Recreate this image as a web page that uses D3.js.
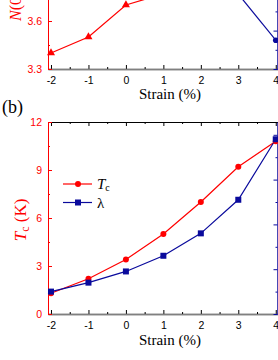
<!DOCTYPE html>
<html>
<head>
<meta charset="utf-8">
<script src="https://cdn.jsdelivr.net/npm/d3@7"></script>
<style>
  body { margin: 0; background: #fff; }
  svg { display: block; overflow: hidden; }
  .tick text { font-family: "Liberation Sans", Arial, sans-serif; font-size: 10.5px; }
  .title { font-family: "Liberation Serif", "Times New Roman", serif; }
</style>
</head>
<body>
<svg id="chart" width="278" height="360"></svg>
<script>
const strain = [-2, -1, 0, 1, 2, 3, 4]
const xTicks = [-2, -1, 0, 1, 2, 3, 4]

// panel (a): only the lower part is visible in the crop
const nStrain = [-2, -1, 0, 1]
const nValues = [3.4, 3.5, 3.7, 3.77]
const nTicks = [3.3, 3.6, 3.9, 4.2, 4.5]
const wStrain = [3, 4]
const wValues = [278, 230]
const wTicks = [200, 240, 280, 320, 360, 400]

// panel (b)
const tcValues = [1.3, 2.2, 3.4, 5.0, 7.0, 9.2, 10.8]
const tcTicks = [0, 3, 6, 9, 12]
const lambdaValues = [0.5, 0.54, 0.59, 0.66, 0.76, 0.91, 1.18]
const lambdaTicks = [0.4, 0.6, 0.8, 1.0, 1.2]

const RED = '#ff0000'
const BLUE = '#0a0a9c'

const svg = d3.select('#chart')
const left = 48
const right = 278

const x = d3.scaleLinear().domain([-2.08, 4.06]).range([left, right])
const halves = d3.range(-1.5, 4, 1)

function halfSteps(ticks) {
  const out = []
  for (let i = 0; i < ticks.length - 1; i++) out.push((ticks[i] + ticks[i + 1]) / 2)
  return out
}

function drawFrame({ top, bottom, yLeft, yLeftTicks, yLeftFmt, yRight, yRightTicks }) {
  // bottom axis
  const xb = svg.append('g').attr('transform', `translate(0,${bottom})`)
  xb.call(d3.axisBottom(x).tickValues(xTicks).tickSizeInner(-4).tickSizeOuter(0).tickPadding(8).tickFormat((d) => String(d)))
  xb.append('g').call(d3.axisBottom(x).tickValues(halves).tickSizeInner(-2).tickSizeOuter(0).tickFormat(''))
  xb.selectAll('.domain').attr('stroke', '#808080').attr('stroke-width', 1.6)
  xb.selectAll('.tick line').attr('stroke', '#000')
  xb.selectAll('.tick text').attr('fill', '#000')

  // top axis
  const xt = svg.append('g').attr('transform', `translate(0,${top})`)
  xt.call(d3.axisTop(x).tickValues(xTicks).tickSizeInner(-4).tickSizeOuter(0).tickFormat(''))
  xt.append('g').call(d3.axisTop(x).tickValues(halves).tickSizeInner(-2).tickSizeOuter(0).tickFormat(''))

  // left axis
  const yl = svg.append('g').attr('transform', `translate(${left},0)`)
  yl.call(d3.axisLeft(yLeft).tickValues(yLeftTicks).tickSizeInner(-4).tickSizeOuter(0).tickPadding(6).tickFormat(yLeftFmt))
  yl.append('g').call(d3.axisLeft(yLeft).tickValues(halfSteps(yLeftTicks)).tickSizeInner(-2).tickSizeOuter(0).tickFormat(''))
  yl.selectAll('.domain, .tick line').attr('stroke', RED)
  yl.selectAll('.tick text').attr('fill', RED)

  // right axis
  const yr = svg.append('g').attr('transform', `translate(${right - 0.5},0)`)
  yr.call(d3.axisRight(yRight).tickValues(yRightTicks).tickSizeInner(-4).tickSizeOuter(0).tickPadding(6))
  yr.append('g').call(d3.axisRight(yRight).tickValues(halfSteps(yRightTicks)).tickSizeInner(-2).tickSizeOuter(0).tickFormat(''))
  yr.selectAll('.domain, .tick line').attr('stroke', BLUE)
  yr.selectAll('.tick text').attr('fill', BLUE)
}

function drawLine(xs, ys, y, color) {
  const pts = xs.map((d, i) => [x(d), y(ys[i])])
  svg.append('path')
    .attr('d', d3.line()(pts))
    .attr('fill', 'none')
    .attr('stroke', color)
    .attr('stroke-width', 1.2)
  return pts
}

function addTitle(text, yPos) {
  svg.append('text').attr('class', 'title')
    .attr('x', 170).attr('y', yPos)
    .attr('text-anchor', 'middle')
    .attr('font-size', 15)
    .text(text)
}

// ----- panel (a)
const aTop = -123
const aBottom = 69
const yN = d3.scaleLinear().domain([3.3, 4.5]).range([aBottom, aTop])
const yW = d3.scaleLinear().domain([200, 400]).range([aBottom, aTop])

drawFrame({ top: aTop, bottom: aBottom, yLeft: yN, yLeftTicks: nTicks, yLeftFmt: d3.format('.1f'), yRight: yW, yRightTicks: wTicks })

const nPts = drawLine(nStrain, nValues, yN, RED)
svg.append('g').selectAll('path').data(nPts).enter().append('path')
  .attr('transform', (d) => `translate(${d[0]},${d[1]})`)
  .attr('d', d3.symbol().type(d3.symbolTriangle).size(28))
  .attr('fill', RED)

const wPts = drawLine(wStrain, wValues, yW, BLUE)
svg.append('g').selectAll('circle').data(wPts).enter().append('circle')
  .attr('cx', (d) => d[0]).attr('cy', (d) => d[1]).attr('r', 2.8)
  .attr('fill', BLUE)

svg.append('text').attr('class', 'title')
  .attr('transform', 'translate(21,21) rotate(-90)')
  .attr('font-size', 16)
  .attr('fill', RED)
  .call((t) => {
    t.append('tspan').attr('font-style', 'italic').text('N')
    t.append('tspan').text('(0) (states/eV)')
  })

addTitle('Strain (%)', 99)

// ----- panel (b)
const bTop = 122
const bBottom = 314
const yTc = d3.scaleLinear().domain([0, 12]).range([bBottom, bTop])
const yLam = d3.scaleLinear().domain([0.4, 0.4 + 0.2 * 192 / 44.8]).range([bBottom, bTop])

drawFrame({ top: bTop, bottom: bBottom, yLeft: yTc, yLeftTicks: tcTicks, yLeftFmt: (d) => String(d), yRight: yLam, yRightTicks: lambdaTicks })

const tcPts = drawLine(strain, tcValues, yTc, RED)
const lamPts = drawLine(strain, lambdaValues, yLam, BLUE)

svg.append('g').selectAll('circle').data(tcPts).enter().append('circle')
  .attr('cx', (d) => d[0]).attr('cy', (d) => d[1]).attr('r', 3)
  .attr('fill', RED)

svg.append('g').selectAll('rect').data(lamPts).enter().append('rect')
  .attr('x', (d) => d[0] - 3).attr('y', (d) => d[1] - 3)
  .attr('width', 6).attr('height', 6)
  .attr('fill', BLUE)

svg.append('text').attr('class', 'title')
  .attr('x', 2).attr('y', 113)
  .attr('font-size', 18)
  .text('(b)')

svg.append('text').attr('class', 'title')
  .attr('transform', `translate(26,${(bTop + bBottom) / 2 + 2}) rotate(-90)`)
  .attr('text-anchor', 'middle')
  .attr('font-size', 17)
  .attr('fill', RED)
  .call((t) => {
    t.append('tspan').attr('font-style', 'italic').text('T')
    t.append('tspan').attr('font-size', 12).attr('dy', 3).text('c')
    t.append('tspan').attr('dy', -3).text(' (K)')
  })

addTitle('Strain (%)', 345)

// legend
const legend = svg.append('g').attr('transform', 'translate(63,184)')
const legendItems = [
  { color: RED, mark: 'circle', label: 'Tc' },
  { color: BLUE, mark: 'square', label: 'λ' },
]
legendItems.forEach((item, i) => {
  const g = legend.append('g').attr('transform', `translate(0,${i * 18.5})`)
  g.append('line').attr('x1', 0).attr('x2', 29).attr('stroke', item.color).attr('stroke-width', 1.2)
  if (item.mark === 'circle') {
    g.append('circle').attr('cx', 15).attr('r', 3).attr('fill', item.color)
  } else {
    g.append('rect').attr('x', 12).attr('y', -3).attr('width', 6).attr('height', 6).attr('fill', item.color)
  }
  const t = g.append('text').attr('class', 'title').attr('x', 34).attr('y', 5).attr('font-size', 15)
  if (item.label === 'Tc') {
    t.append('tspan').attr('font-style', 'italic').text('T')
    t.append('tspan').attr('font-size', 10).attr('dy', 2).text('c')
  } else {
    t.text(item.label)
  }
})
</script>
</body>
</html>
